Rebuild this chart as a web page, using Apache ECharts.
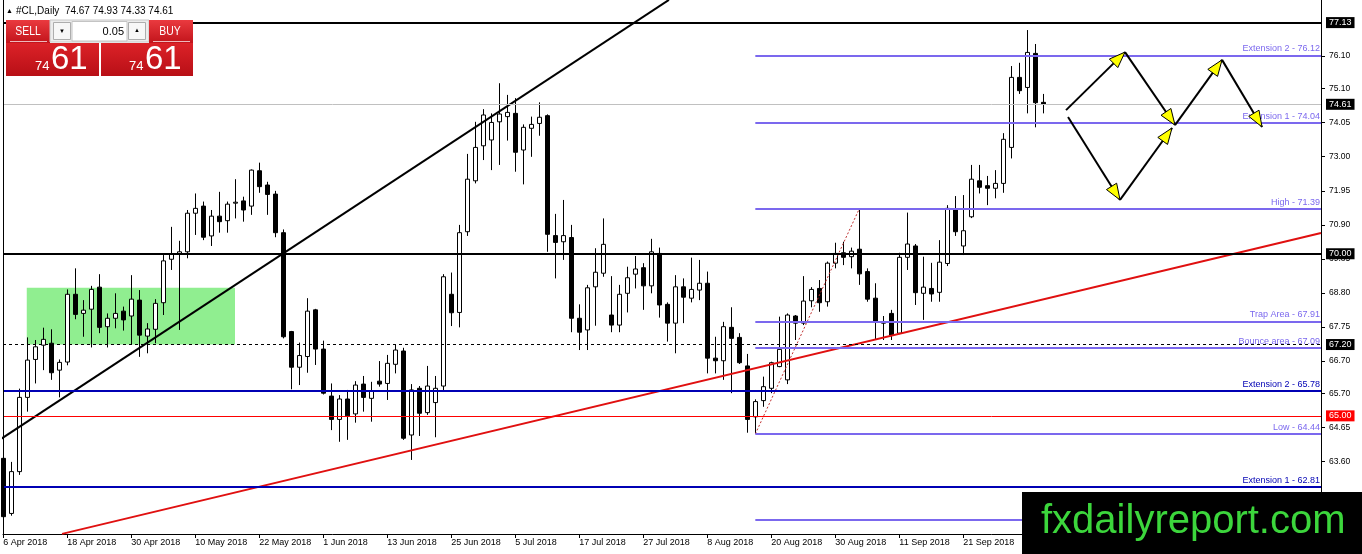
<!DOCTYPE html>
<html><head><meta charset="utf-8">
<script src="https://cdn.jsdelivr.net/npm/echarts@6/dist/echarts.min.js"></script>
<style>html,body{margin:0;padding:0;background:#fff}#c{width:1362px;height:554px}</style>
</head><body><div id="c"></div>
<script>
// ---- data ----
const dateLabels = ['6 Apr 2018','18 Apr 2018','30 Apr 2018','10 May 2018','22 May 2018','1 Jun 2018','13 Jun 2018','25 Jun 2018','5 Jul 2018','17 Jul 2018','27 Jul 2018','8 Aug 2018','20 Aug 2018','30 Aug 2018','11 Sep 2018','21 Sep 2018'];
const dateLabelIdx = [0,8,16,24,32,40,48,56,64,72,80,88,96,104,112,120];
const opens = [63.69,61.99,63.28,65.57,66.74,67.18,67.24,66.41,66.66,68.75,
68.16,68.29,68.97,67.75,68.01,68.23,68.08,68.57,67.46,67.67,
68.49,69.83,70.00,70.06,71.25,71.47,70.55,71.16,71.02,71.56,
71.63,71.47,72.56,72.12,71.84,70.65,67.60,66.50,66.83,68.27,
67.06,65.61,64.89,65.52,65.06,65.98,65.54,66.07,66.00,66.59,
67.00,64.41,65.85,65.10,65.41,65.92,68.75,68.19,70.68,72.25,
73.33,73.51,74.07,74.23,74.33,73.20,73.87,74.02,74.26,70.56,
70.37,70.50,68.01,67.65,68.98,69.40,68.11,67.80,68.78,69.37,
69.57,69.01,70.01,68.44,67.86,68.98,68.63,68.88,69.09,66.78,
66.70,67.73,67.42,66.54,64.97,65.47,65.85,66.52,66.11,68.08,
67.86,68.55,68.93,68.52,69.71,70.03,69.91,70.14,69.45,68.63,
67.90,68.16,67.55,69.89,70.24,68.78,68.93,68.81,69.70,71.37,
70.24,71.14,72.25,72.10,72.02,72.17,73.28,75.44,75.13,76.18,
74.67];
const highs = [63.80,63.58,65.84,67.42,67.34,67.72,67.67,66.74,68.90,69.55,
68.57,69.01,69.37,68.16,68.78,68.37,69.34,68.88,67.86,68.60,
69.96,70.83,70.40,71.35,71.86,71.61,71.35,71.91,71.61,72.30,
71.76,72.60,72.81,72.22,71.94,70.75,67.62,67.26,68.63,68.30,
67.32,66.00,65.64,65.80,66.07,66.23,66.05,66.69,66.88,67.19,
67.10,65.98,65.92,66.54,66.23,69.37,69.42,70.89,73.08,74.07,
74.46,74.33,75.26,74.90,74.80,73.99,74.23,74.67,74.30,71.23,
71.66,70.89,68.44,69.04,70.17,71.09,69.31,69.04,69.60,69.93,
69.71,70.46,70.19,68.50,69.34,69.24,69.88,69.81,69.45,67.44,
67.90,68.35,67.55,66.91,65.51,66.21,66.67,68.06,68.16,68.11,
69.31,68.97,69.19,69.76,70.34,70.37,70.19,71.39,69.55,69.09,
68.08,68.27,70.03,71.27,70.30,69.91,69.72,70.42,71.50,71.78,
71.81,72.74,72.74,72.40,72.58,73.72,75.79,75.89,76.90,76.47,
74.93];
const lows = [61.85,61.92,63.18,65.13,66.00,66.41,66.11,65.57,66.56,67.98,
67.44,67.11,67.55,67.11,67.70,67.63,67.19,66.82,66.93,67.24,
68.11,69.50,67.65,69.86,70.58,70.42,70.24,70.65,70.65,71.09,
70.99,71.20,71.88,71.20,70.51,67.39,65.82,65.95,66.33,66.57,
65.66,64.56,64.20,64.26,64.79,65.13,64.82,65.90,65.49,66.31,
64.26,63.64,64.38,65.03,64.34,65.75,67.77,67.73,70.55,72.17,
72.89,72.58,72.74,73.49,72.53,72.14,72.99,73.64,70.06,69.24,
69.81,67.58,67.03,67.03,67.78,69.29,67.58,67.58,68.19,68.93,
68.27,68.78,68.03,67.29,66.93,67.86,68.50,68.57,66.31,66.31,
66.11,65.70,66.60,64.48,64.44,65.28,65.70,66.50,65.98,67.34,
67.80,68.35,68.21,68.37,69.55,69.65,69.55,69.04,68.52,67.34,
67.34,67.34,67.52,69.50,68.42,67.96,68.52,68.52,69.62,70.55,
69.96,71.10,71.86,71.50,71.71,71.88,72.94,74.93,74.33,73.90,
74.33];
const closes = [61.89,63.28,65.57,66.72,67.13,67.36,66.33,66.65,68.75,68.13,
68.26,68.90,67.73,68.01,68.16,67.96,68.60,67.49,67.68,68.47,
69.78,69.99,70.06,71.25,71.40,70.51,71.16,70.99,71.53,71.59,
71.35,72.58,72.07,71.83,70.65,67.44,66.50,66.86,68.23,67.06,
65.70,64.89,65.52,65.00,65.95,65.57,65.78,65.98,66.62,67.03,
64.31,65.80,65.08,65.92,65.85,69.29,68.18,70.65,72.30,73.28,
74.28,74.05,74.31,74.36,73.13,73.90,73.99,74.21,70.60,70.35,
70.56,68.01,67.58,68.95,69.43,70.29,67.80,68.75,69.26,69.53,
69.01,70.06,68.42,67.86,68.98,68.66,68.90,69.09,66.78,66.70,
67.75,67.39,66.64,64.89,65.44,65.90,66.64,67.05,68.11,67.86,
68.54,68.90,68.49,69.71,70.01,69.89,70.08,69.38,68.60,67.90,
67.86,67.49,69.89,70.30,68.80,68.97,68.76,69.74,71.40,70.68,
70.71,72.30,72.05,72.02,72.17,73.53,75.44,75.03,76.21,74.66,
74.61];
const yTicks = [62.55,63.60,64.65,65.70,66.70,67.75,68.80,69.85,70.90,71.95,73.00,74.05,75.10,76.10];
const boxLevels = [77.13, 74.61, 70.00, 67.20, 65.00];
const blueLevels = [65.78, 62.81];
const blueNames = ['Extension 2', 'Extension 1'];
const fiboLevels = [76.12, 74.04, 71.39, 67.91, 67.09, 64.44, 61.79];
const fiboNames = ['Extension 2', 'Extension 1', 'High', 'Trap Area', 'Bounce area', 'Low', ''];
const fiboStartIdx = 94;
const zoneX = [2.93, 28.96];
const zoneY = [68.95, 67.20];
const blackTrend = [[-0.41, 64.27], [83.2, 77.83]];
const redTrend = [[7.34, 61.36], [164.71, 70.64]];
const fiboDiag = [[94, 64.44], [107, 71.39]];
const arrowSegs = [
  [132.84, 74.43, 140.21, 76.22],
  [140.21, 76.22, 146.46, 73.97],
  [146.46, 73.97, 152.34, 75.98],
  [152.34, 75.98, 157.34, 73.91],
  [133.09, 74.22, 139.59, 71.66],
  [139.59, 71.66, 146.09, 73.88]
];
const xMin = -0.04, xMax = 164.71, yMin = 61.356, yMax = 77.827;

// ---- chart ----
const FF = "'Liberation Sans', Arial, sans-serif";
const candles = opens.map((o, i) => [i, o, closes[i], lows[i], highs[i]]);
const last = opens.length - 1;
const headerText = '#CL,Daily  ' + [opens[last], highs[last], lows[last], closes[last]].map(v => v.toFixed(2)).join(' ');
const bidStr = closes[last].toFixed(2);
const bidBig = bidStr.slice(0, 2), bidSmall = bidStr.slice(3);

const boxColors = ['#000', '#000', '#000', '#000', '#ff0000'];
const boxLineStyles = [
  {color: '#000', width: 2, type: 'solid'},
  {color: '#c0c0c0', width: 1, type: 'solid'},
  {color: '#000', width: 2, type: 'solid'},
  {color: '#000', width: 1, type: [3, 3]},
  {color: '#ff0000', width: 1, type: 'solid'}
];
const BLUE = '#0000b4', LAV = '#7b68ee';

const mlData = [];
boxLevels.forEach((v, i) => {
  mlData.push({
    yAxis: v,
    lineStyle: boxLineStyles[i],
    label: {show: true, position: 'end', formatter: v.toFixed(2), color: '#fff',
      backgroundColor: boxColors[i], padding: [1, 3, 0, 3], fontSize: 9, lineHeight: 10,
      fontFamily: FF, distance: 5}
  });
});
blueLevels.forEach((v, i) => {
  mlData.push({
    yAxis: v,
    lineStyle: {color: BLUE, width: 2, type: 'solid'},
    label: {show: true, position: 'insideEndTop', formatter: blueNames[i] + ' - ' + v.toFixed(2),
      color: BLUE, fontSize: 9, fontFamily: FF, distance: [1, 2]}
  });
});
fiboLevels.forEach((v, i) => {
  mlData.push([
    {coord: [fiboStartIdx, v],
     lineStyle: {color: LAV, width: 2, type: 'solid'},
     label: {show: fiboNames[i] !== '', position: 'insideEndTop',
       formatter: fiboNames[i] ? fiboNames[i] + ' - ' + v.toFixed(2) : '',
       color: LAV, fontSize: 9, fontFamily: FF, distance: [1, 2]}},
    {coord: [xMax, v]}
  ]);
});

const grad = () => new echarts.graphic.LinearGradient(0, 0, 0, 1, [
  {offset: 0, color: '#ea3a3f'}, {offset: 1, color: '#c2141b'}]);
const grad2 = () => new echarts.graphic.LinearGradient(0, 0, 0, 1, [
  {offset: 0, color: '#dc2228'}, {offset: 1, color: '#b80f16'}]);
const Z = 100;
const graphic = [
  {type: 'line', z: 50, shape: {x1: 3.5, y1: 0, x2: 3.5, y2: 534}, style: {stroke: '#000', lineWidth: 1}},
  {type: 'text', x: 6, y: 11, z: Z, style: {text: '▲', font: '7px ' + FF, fill: '#000', verticalAlign: 'middle'}},
  {type: 'text', x: 16, y: 11, z: Z, style: {text: headerText, font: '10px ' + FF, fill: '#000', verticalAlign: 'middle'}},
  {type: 'rect', z: Z, shape: {x: 6, y: 20, width: 44, height: 23}, style: {fill: grad()}},
  {type: 'line', z: Z, shape: {x1: 10, y1: 41.5, x2: 47, y2: 41.5}, style: {stroke: 'rgba(255,255,255,0.7)', lineWidth: 1}},
  {type: 'text', z: Z + 1, x: 28, y: 31.5, scaleX: 0.8, style: {text: 'SELL', font: '13px ' + FF, fill: '#fff', align: 'center', verticalAlign: 'middle'}},
  {type: 'rect', z: Z, shape: {x: 6, y: 43, width: 93, height: 33}, style: {fill: grad2()}},
  {type: 'text', z: Z + 1, x: 49.5, y: 66.4, style: {text: bidBig, font: '13px ' + FF, fill: '#fff', align: 'right', verticalAlign: 'middle'}},
  {type: 'text', z: Z + 1, x: 51, y: 59.5, style: {text: bidSmall, font: '33px ' + FF, fill: '#fff', align: 'left', verticalAlign: 'middle'}},
  {type: 'rect', z: Z, shape: {x: 50, y: 20, width: 99, height: 22}, style: {fill: '#ececec', stroke: '#c8c8c8', lineWidth: 1}},
  {type: 'rect', z: Z, shape: {x: 53.5, y: 22.5, width: 17, height: 17}, style: {fill: '#f7f7f7', stroke: '#adadad', lineWidth: 1}},
  {type: 'text', z: Z + 1, x: 62, y: 31, style: {text: '▼', font: '6px ' + FF, fill: '#000', align: 'center', verticalAlign: 'middle'}},
  {type: 'rect', z: Z, shape: {x: 72, y: 21.5, width: 55, height: 19.5}, style: {fill: '#fff', stroke: '#c4c4c4', lineWidth: 1}},
  {type: 'text', z: Z + 1, x: 124, y: 31.5, style: {text: '0.05', font: '11px ' + FF, fill: '#000', align: 'right', verticalAlign: 'middle'}},
  {type: 'rect', z: Z, shape: {x: 128.5, y: 22.5, width: 17, height: 17}, style: {fill: '#f7f7f7', stroke: '#adadad', lineWidth: 1}},
  {type: 'text', z: Z + 1, x: 137, y: 30.5, style: {text: '▲', font: '6px ' + FF, fill: '#000', align: 'center', verticalAlign: 'middle'}},
  {type: 'rect', z: Z, shape: {x: 149, y: 20, width: 44, height: 23}, style: {fill: grad()}},
  {type: 'line', z: Z, shape: {x1: 153, y1: 41.5, x2: 190, y2: 41.5}, style: {stroke: 'rgba(255,255,255,0.7)', lineWidth: 1}},
  {type: 'text', z: Z + 1, x: 170, y: 31.5, scaleX: 0.8, style: {text: 'BUY', font: '13px ' + FF, fill: '#fff', align: 'center', verticalAlign: 'middle'}},
  {type: 'rect', z: Z, shape: {x: 101, y: 43, width: 92, height: 33}, style: {fill: grad2()}},
  {type: 'text', z: Z + 1, x: 143.5, y: 66.4, style: {text: bidBig, font: '13px ' + FF, fill: '#fff', align: 'right', verticalAlign: 'middle'}},
  {type: 'text', z: Z + 1, x: 145, y: 59.5, style: {text: bidSmall, font: '33px ' + FF, fill: '#fff', align: 'left', verticalAlign: 'middle'}},
  {type: 'rect', z: Z, shape: {x: 1022, y: 492, width: 340, height: 62}, style: {fill: '#000'}},
  {type: 'text', z: Z + 1, x: 1041, y: 522, style: {text: 'fxdailyreport.com', font: '40px ' + FF, fill: '#3cd63c', verticalAlign: 'middle'}}
];

const chart = echarts.init(document.getElementById('c'), null, {renderer: 'canvas'});
chart.setOption({
  animation: false,
  backgroundColor: '#fff',
  grid: {left: 3, right: 41, top: 0, bottom: 20, containLabel: false, outerBoundsMode: 'none'},
  xAxis: {
    type: 'value', min: xMin, max: xMax, position: 'bottom',
    axisLine: {show: true, onZero: false, lineStyle: {color: '#000', width: 1}},
    axisTick: {show: true, customValues: dateLabelIdx, length: 4, lineStyle: {color: '#000'}},
    axisLabel: {show: true, customValues: dateLabelIdx, hideOverlap: false,
      formatter: v => { const k = dateLabelIdx.indexOf(Math.round(v)); return k >= 0 ? dateLabels[k] : ''; },
      align: 'left', margin: 4, fontSize: 9, color: '#000', fontFamily: FF},
    splitLine: {show: false}, minorTick: {show: false}, minorSplitLine: {show: false}
  },
  yAxis: {
    type: 'value', position: 'right', min: yMin, max: yMax,
    axisLine: {show: true, onZero: false, lineStyle: {color: '#000'}},
    axisTick: {show: false},
    axisLabel: {show: true, customValues: yTicks, hideOverlap: false, formatter: v => v.toFixed(2),
      margin: 8, fontSize: 8.5, color: '#000', fontFamily: FF},
    splitLine: {show: false}, minorTick: {show: false}, minorSplitLine: {show: false}, splitArea: {show: false}
  },
  graphic: graphic,
  series: [
    {
      type: 'candlestick', data: candles, encode: {x: 0, y: [1, 2, 3, 4]},
      barWidth: 5, z: 2, silent: true,
      itemStyle: {color: '#fff', color0: '#000', borderColor: '#000', borderColor0: '#000', borderWidth: 1},
      markArea: {silent: true, itemStyle: {color: '#90ee90', opacity: 1},
        data: [[{coord: [zoneX[0], zoneY[0]]}, {coord: [zoneX[1], zoneY[1]]}]]},
      markLine: {silent: true, symbol: ['none', 'none'], animation: false, data: mlData}
    },
    {type: 'line', data: blackTrend, symbol: 'none', z: 4, silent: true, clip: true,
      lineStyle: {color: '#000', width: 2}},
    {type: 'line', data: redTrend, symbol: 'none', z: 4, silent: true, clip: true,
      lineStyle: {color: '#e01010', width: 2}},
    {type: 'line', data: fiboDiag, symbol: 'none', z: 4, silent: true, clip: true,
      lineStyle: {color: '#c03030', width: 1, type: [2, 2]}},
    {type: 'custom', data: arrowSegs, encode: {x: [0, 2], y: [1, 3]}, z: 6, silent: true,
      renderItem: (params, api) => {
        const a = api.coord([api.value(0), api.value(1)]);
        const b = api.coord([api.value(2), api.value(3)]);
        const dx = b[0] - a[0], dy = b[1] - a[1], len = Math.hypot(dx, dy);
        const ux = dx / len, uy = dy / len, L = 16, W = 6;
        const bx = b[0] - ux * L, by = b[1] - uy * L;
        return {type: 'group', children: [
          {type: 'line', shape: {x1: a[0], y1: a[1], x2: b[0], y2: b[1]}, style: {stroke: '#000', lineWidth: 2}},
          {type: 'polygon', shape: {points: [[b[0], b[1]], [bx - uy * W, by + ux * W], [bx + uy * W, by - ux * W]]},
            style: {fill: '#ffff00', stroke: '#000', lineWidth: 1}}
        ]};
      }},
    // right-axis tick marks at the price labels
    {type: 'custom', data: yTicks.map(v => [xMax, v]), encode: {x: 0, y: 1}, z: 3, silent: true, clip: false,
      renderItem: (params, api) => {
        const p = api.coord([api.value(0), api.value(1)]);
        const y = Math.round(p[1]) + 0.5;
        return {type: 'line', shape: {x1: p[0], y1: y, x2: p[0] + 4, y2: y}, style: {stroke: '#000', lineWidth: 1}};
      }}
  ]
});
</script>
</body></html>
